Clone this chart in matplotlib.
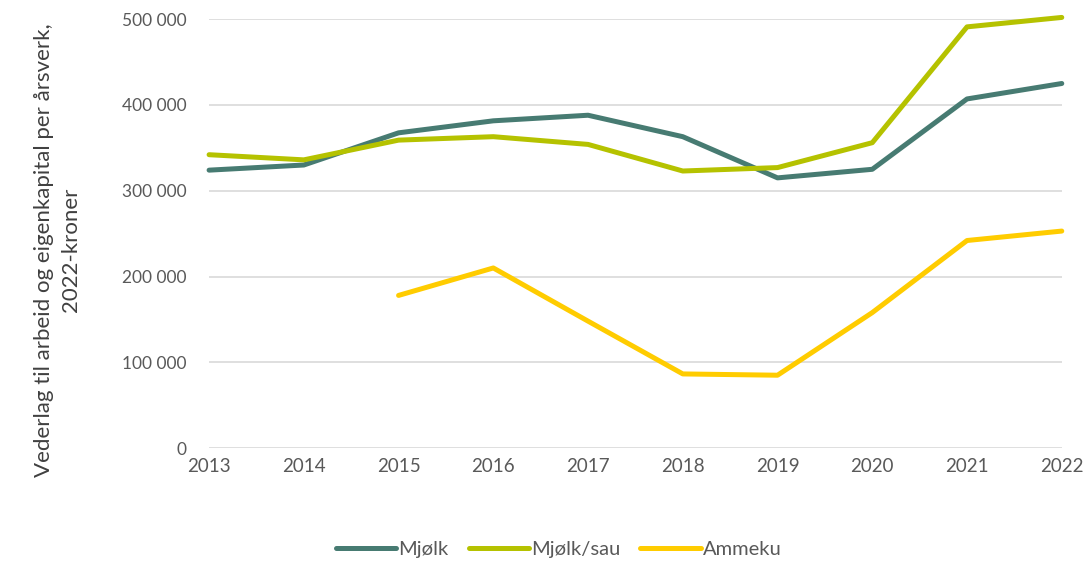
import matplotlib.pyplot as plt
import numpy as np
from matplotlib.ticker import FuncFormatter

years = [2013, 2014, 2015, 2016, 2017, 2018, 2019, 2020, 2021, 2022]
mjolk = [324000, 330000, 367500, 381500, 388000, 363000, 315000, 325000, 407000, 425000]
mjolk_sau = [342000, 336000, 359000, 363000, 354000, 323000, 327000, 356000, 491000, 502000]
ammeku = [np.nan, np.nan, 178000, 210000, 148000, 86500, 85000, 158000, 242000, 253000]

series_names = ['Mjølk', 'Mjølk/sau', 'Ammeku']
colors = ['#477b72', '#b5c200', '#ffcc00']

plt.rcParams['font.family'] = ['Lato', 'DejaVu Sans']
grey = '#595959'

fig = plt.figure(figsize=(10.89, 5.63), dpi=100)
ax = fig.add_axes([0.192, 0.204, 0.783, 0.762])

for vals, name, col in zip([mjolk, mjolk_sau, ammeku], series_names, colors):
    ax.plot(years, vals, color=col, lw=3.6, label=name, clip_on=False,
            solid_capstyle='round', solid_joinstyle='round')

ax.set_xlim(2013, 2022)
ax.set_ylim(0, 500000)
ax.set_xticks(years)
ax.set_yticks(range(0, 500001, 100000))
ax.yaxis.set_major_formatter(FuncFormatter(lambda v, p: f'{int(v):,}'.replace(',', ' ')))
ax.grid(axis='y', color='#d9d9d9', lw=1.2)
ax.set_axisbelow(True)
for s in ax.spines.values():
    s.set_visible(False)
ax.tick_params(axis='y', length=0, pad=16, labelsize=12.5, labelcolor=grey)
ax.tick_params(axis='x', length=0, pad=7, labelsize=13.5, labelcolor=grey)

# y label placed on the figure, like the original
fig.text(0.053, 0.556, 'Vederlag til arbeid og eigenkapital per årsverk,\n2022-kroner',
         rotation=90, ha='center', va='center', multialignment='center',
         fontsize=16, color='#404040', linespacing=1.45)

leg = fig.legend(loc='lower center', ncol=3, frameon=False, fontsize=14.5,
                 bbox_to_anchor=(0.513, -0.024), handlelength=3.0, columnspacing=1.0,
                 handletextpad=0.1)
for t in leg.get_texts():
    t.set_color(grey)

fig.savefig('out.png', dpi=100)
